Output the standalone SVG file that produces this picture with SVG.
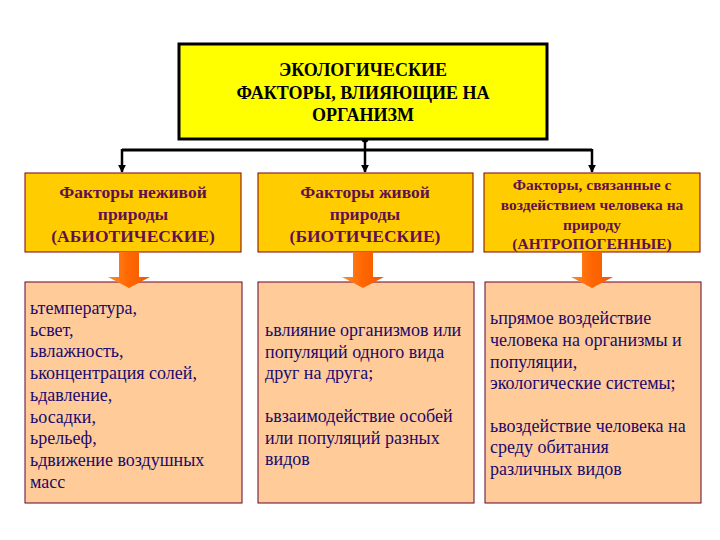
<svg xmlns="http://www.w3.org/2000/svg" width="720" height="540" viewBox="0 0 720 540">
<defs>
<style>
.top{fill:#FFFF00;stroke:#000;stroke-width:3}
.hdr{fill:#FFCC00;stroke:#800000;stroke-width:1}
.body{fill:#FFCC99;stroke:#660033;stroke-width:1}
.tt{font-weight:bold;font-size:18px;fill:#000;text-anchor:middle}
.ht{font-weight:bold;font-size:17.5px;fill:#601050;text-anchor:middle}
.ht3{font-weight:bold;font-size:15.5px;fill:#601050;text-anchor:middle}
.bt{font-size:18px;fill:#1a0a6e}
.conn{fill:none;stroke:#000;stroke-width:3}
.bar{fill:none;stroke:#000;stroke-width:2.5}
.oarrow{fill:url(#og);stroke:none}
</style>
<linearGradient id="og" x1="0" y1="0" x2="1" y2="0">
<stop offset="0" stop-color="#FF8A2A"/>
<stop offset="0.5" stop-color="#FF6600"/>
<stop offset="1" stop-color="#F05A00"/>
</linearGradient>
<marker id="ah" viewBox="0 0 10 10" refX="9" refY="5" markerWidth="3.2" markerHeight="3.2" orient="auto">
<path d="M0,0 L10,5 L0,10 z" fill="#000"/>
</marker>
</defs>
<rect width="720" height="540" fill="#FFFFFF"/>

<g id="connectors">
<polyline class="conn" points="122,150 592,150"/>
<circle cx="365" cy="139" r="3.5" fill="#000"/>
<line class="bar" x1="365" y1="139" x2="365" y2="172" marker-end="url(#ah)"/>
<line class="bar" x1="122" y1="149" x2="122" y2="172" marker-end="url(#ah)"/>
<line class="bar" x1="592" y1="149" x2="592" y2="172" marker-end="url(#ah)"/>
</g>

<g font-family="Times New Roman, Liberation Serif, serif">
<g id="root">
<rect class="top" x="179" y="44" width="368" height="95"/>
<text class="tt" x="363" y="76">ЭКОЛОГИЧЕСКИЕ</text>
<text class="tt" x="363" y="99">ФАКТОРЫ, ВЛИЯЮЩИЕ НА</text>
<text class="tt" x="363" y="121">ОРГАНИЗМ</text>
</g>

<g id="abiotic">
<rect class="hdr" x="25" y="173" width="216" height="79"/>
<text class="ht" x="133" y="198">Факторы неживой</text>
<text class="ht" x="133" y="220">природы</text>
<text class="ht" x="133" y="242">(АБИОТИЧЕСКИЕ)</text>
</g>

<g id="biotic">
<rect class="hdr" x="258" y="173" width="215" height="79"/>
<text class="ht" x="365" y="198">Факторы живой</text>
<text class="ht" x="365" y="220">природы</text>
<text class="ht" x="365" y="242">(БИОТИЧЕСКИЕ)</text>
</g>

<g id="anthropogenic">
<rect class="hdr" x="484" y="173" width="216" height="79"/>
<text class="ht3" x="592" y="190">Факторы, связанные с</text>
<text class="ht3" x="592" y="210">воздействием человека на</text>
<text class="ht3" x="592" y="230">природу</text>
<text class="ht3" x="592" y="249">(АНТРОПОГЕННЫЕ)</text>
</g>

<g id="abiotic-list">
<rect class="body" x="25" y="282" width="217" height="221"/>
<text class="bt" x="30" y="314">ьтемпература,</text>
<text class="bt" x="30" y="336">ьсвет,</text>
<text class="bt" x="30" y="357">ьвлажность,</text>
<text class="bt" x="30" y="379">ьконцентрация солей,</text>
<text class="bt" x="30" y="401">ьдавление,</text>
<text class="bt" x="30" y="423">ьосадки,</text>
<text class="bt" x="30" y="444">ьрельеф,</text>
<text class="bt" x="30" y="466">ьдвижение воздушных</text>
<text class="bt" x="30" y="488">масс</text>
</g>

<g id="biotic-list">
<rect class="body" x="258" y="282" width="216" height="221"/>
<text class="bt" x="265" y="336">ьвлияние организмов или</text>
<text class="bt" x="265" y="358">популяций одного вида</text>
<text class="bt" x="265" y="379">друг на друга;</text>
<text class="bt" x="265" y="422">ьвзаимодействие особей</text>
<text class="bt" x="265" y="444">или популяций разных</text>
<text class="bt" x="265" y="465">видов</text>
</g>

<g id="anthropogenic-list">
<rect class="body" x="485" y="282" width="216" height="221"/>
<text class="bt" x="490" y="324">ьпрямое воздействие</text>
<text class="bt" x="490" y="346">человека на организмы и</text>
<text class="bt" x="490" y="368">популяции,</text>
<text class="bt" x="490" y="389">экологические системы;</text>
<text class="bt" x="490" y="432">ьвоздействие человека на</text>
<text class="bt" x="490" y="453">среду обитания</text>
<text class="bt" x="490" y="475">различных видов</text>
</g>
</g>

<g id="arrows">
<polygon class="oarrow" points="119,252 139,252 139,277 150,277 129,288 108,277 119,277"/>
<polygon class="oarrow" points="353,252 373,252 373,277 384,277 363,288 342,277 353,277"/>
<polygon class="oarrow" points="582,252 602,252 602,277 613,277 592,288 571,277 582,277"/>
</g>
</svg>
